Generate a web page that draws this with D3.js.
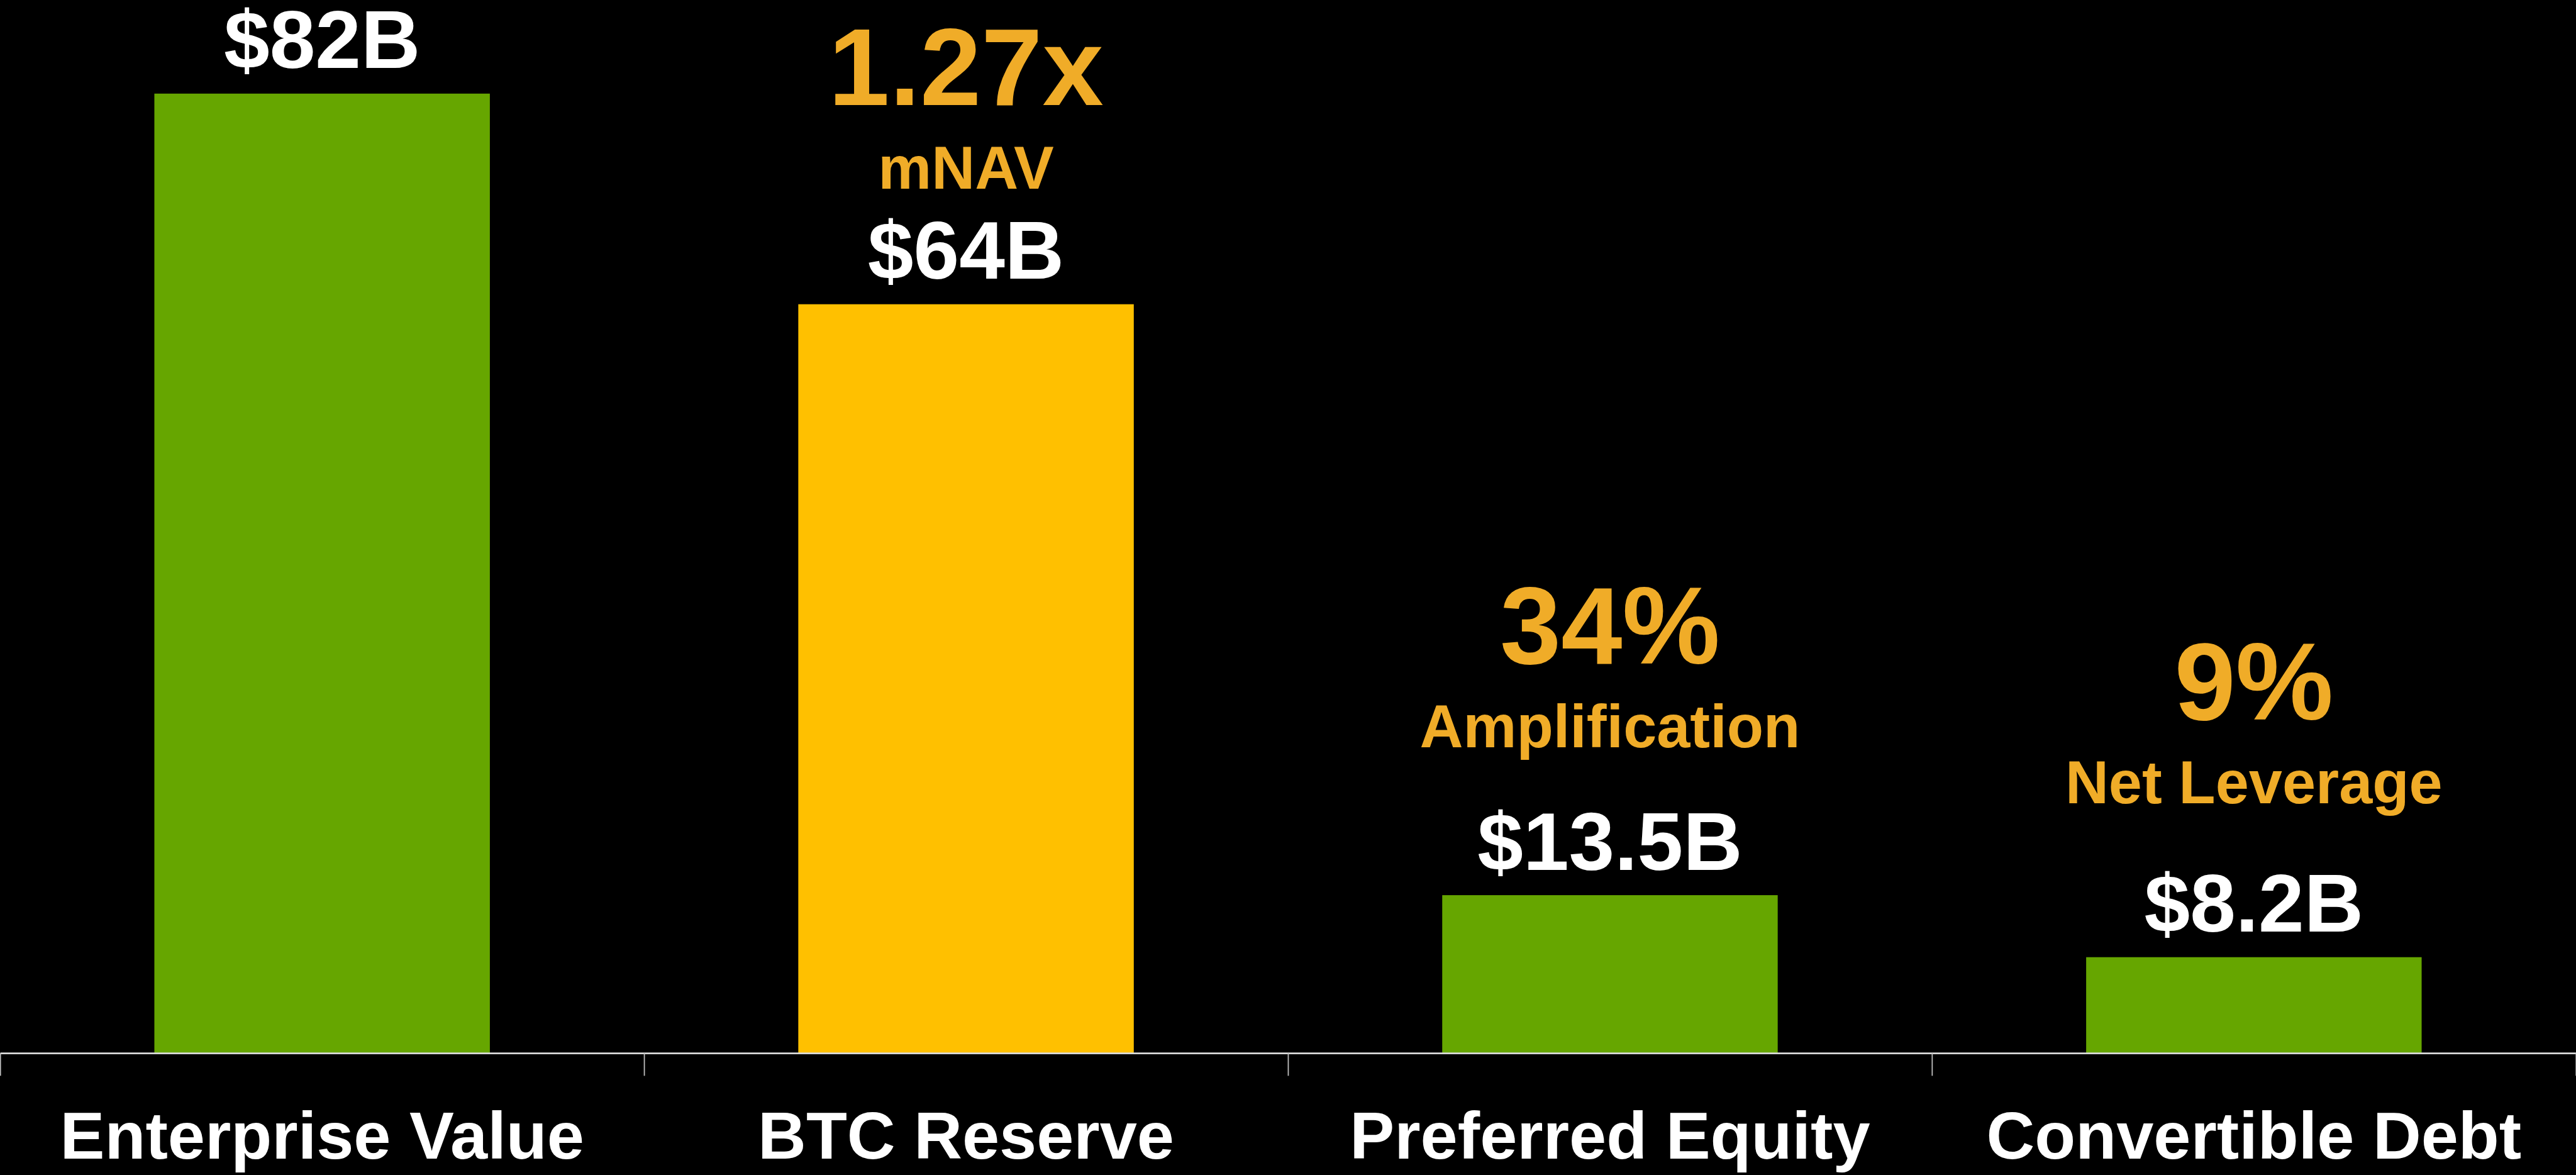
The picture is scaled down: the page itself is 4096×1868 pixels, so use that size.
<!DOCTYPE html>
<html>
<head>
<meta charset="utf-8">
<script src="https://cdn.jsdelivr.net/npm/d3@7"></script>
<style>
  html, body { margin: 0; padding: 0; background: #000; overflow: hidden; }
  svg { display: block; }
</style>
</head>
<body>
<svg id="chart"></svg>
<script>
const categories = ["Enterprise Value", "BTC Reserve", "Preferred Equity", "Convertible Debt"];
const values = [82, 64, 13.5, 8.2];
const valueLabels = ["$82B", "$64B", "$13.5B", "$8.2B"];
const metrics = ["", "1.27x", "34%", "9%"];
const metricNames = ["", "mNAV", "Amplification", "Net Leverage"];
const highlight = "BTC Reserve";

// drawn in reference units, scaled down by the viewBox (0.901)
const refW = 4545, refH = 2073;
const baseY = 1858;
const noteLift = [0, 159, 216, 227]; // subtitle baseline above value label

const green = "#66A600";
const gold = "#FFC000";
const orange = "#F0AC28";

const svg = d3.select("#chart")
  .attr("width", 4096)
  .attr("height", 1868)
  .attr("viewBox", [0, 0, refW, refH])
  .style("font-family", "'Liberation Sans', Arial, sans-serif")
  .style("font-weight", "bold");

svg.append("rect").attr("width", refW).attr("height", refH).attr("fill", "#000");

const x = d3.scaleBand()
  .domain(categories)
  .range([0, refW])
  .paddingInner(0.479)
  .paddingOuter(0.2395);

const y = d3.scaleLinear()
  .domain([0, 90])
  .range([baseY, 0]);

const data = categories.map((c, i) => ({
  cat: c, value: values[i], label: valueLabels[i],
  metric: metrics[i], name: metricNames[i], lift: noteLift[i]
}));

// bars
svg.selectAll("rect.bar")
  .data(data)
  .join("rect")
  .attr("class", "bar")
  .attr("x", d => x(d.cat))
  .attr("y", d => y(d.value))
  .attr("width", x.bandwidth())
  .attr("height", d => y(0) - y(d.value))
  .attr("fill", d => d.cat === highlight ? gold : green);

// axis with ticks at category boundaries
const edge = d3.scaleLinear().domain([0, categories.length]).range([0, refW]);
const axis = svg.append("g")
  .attr("transform", `translate(0,${baseY})`)
  .call(d3.axisBottom(edge)
    .tickValues(d3.range(categories.length + 1))
    .tickSize(40)
    .tickSizeOuter(0)
    .tickFormat(""));
axis.select(".domain").attr("stroke", "#D9D9D9").attr("stroke-width", 3);
axis.selectAll(".tick line").attr("stroke", "#BFBFBF").attr("stroke-width", 2);

// category labels
svg.selectAll("text.cat")
  .data(data)
  .join("text")
  .attr("class", "cat")
  .attr("x", d => x(d.cat) + x.bandwidth() / 2)
  .attr("y", 2044)
  .attr("text-anchor", "middle")
  .attr("fill", "#fff")
  .attr("font-size", 118)
  .text(d => d.cat);

// value labels
svg.selectAll("text.val")
  .data(data)
  .join("text")
  .attr("class", "val")
  .attr("x", d => x(d.cat) + x.bandwidth() / 2)
  .attr("y", d => y(d.value) - 45)
  .attr("text-anchor", "middle")
  .attr("fill", "#fff")
  .attr("font-size", 145)
  .text(d => d.label);

// metric callouts
const notes = data.filter(d => d.metric);
svg.selectAll("text.name")
  .data(notes)
  .join("text")
  .attr("class", "name")
  .attr("x", d => x(d.cat) + x.bandwidth() / 2)
  .attr("y", d => y(d.value) - 45 - d.lift)
  .attr("text-anchor", "middle")
  .attr("fill", orange)
  .attr("font-size", 106)
  .text(d => d.name);

svg.selectAll("text.metric")
  .data(notes)
  .join("text")
  .attr("class", "metric")
  .attr("x", d => x(d.cat) + x.bandwidth() / 2)
  .attr("y", d => y(d.value) - 45 - d.lift - 147)
  .attr("text-anchor", "middle")
  .attr("fill", orange)
  .attr("font-size", 194)
  .text(d => d.metric);
</script>
</body>
</html>
